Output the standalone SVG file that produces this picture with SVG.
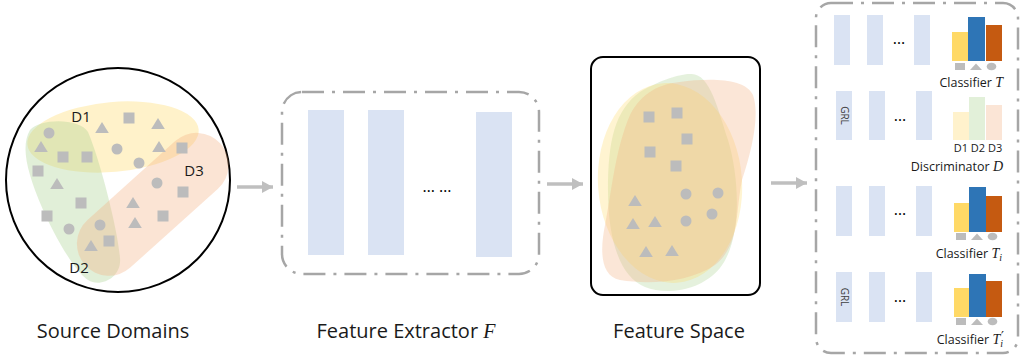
<svg xmlns="http://www.w3.org/2000/svg" xmlns:xlink="http://www.w3.org/1999/xlink" width="1021" height="360" viewBox="0 0 1021 360">
  <style>
    .lbl { font-family: "Open Sans", "Noto Sans", sans-serif; font-size: 20px; fill: #1a1a1a; }
    .sm { font-family: "Open Sans", "Noto Sans", sans-serif; font-size: 12.5px; fill: #1a1a1a; }
    .tiny { font-family: "Open Sans", "Noto Sans", sans-serif; font-size: 11px; fill: #1a1a1a; }
    .grl { font-family: "Open Sans", "Noto Sans", sans-serif; font-size: 10px; fill: #404040; }
    .math { font-family: "Liberation Serif", "DejaVu Serif", serif; font-style: italic; }
    .dom { font-family: "Open Sans", "Noto Sans", sans-serif; font-size: 15px; fill: #1a1a1a; }
    .dots { font-family: "Open Sans", "Noto Sans", sans-serif; font-size: 16px; fill: #000; }
    .layer { fill: #dae3f3; }
    .mark { fill: #bcbcbc; }
    .dashbox { fill: none; stroke: #a6a6a6; stroke-width: 2.5; stroke-dasharray: 22 8 3 8; }
    .arrow { stroke: #bfbfbf; stroke-width: 3.5; fill: none; marker-end: url(#head); }
    .by { fill: #ffd966; }
    .bb { fill: #2e75b6; }
    .bo { fill: #c55a11; }
  </style>
  <defs>
    <marker id="head" markerUnits="userSpaceOnUse" markerWidth="12" markerHeight="12" refX="11" refY="6" orient="auto">
      <path d="M0,0 L11,6 L0,12 Z" fill="#bfbfbf"/>
    </marker>
    <rect id="sq" x="-5.5" y="-5.5" width="11" height="11"/>
    <path id="tri" d="M0,-6 L6.8,5 L-6.8,5 Z"/>
    <circle id="dot" r="5.5"/>
    <!-- small legend icons under the bar charts -->
    <g id="legend" fill="#bcbcbc">
      <rect x="-21" y="-3.5" width="10" height="7"/>
      <path d="M-6,3.5 L0,-3 L6,3.5 Z"/>
      <ellipse cx="15.5" cy="0" rx="4.8" ry="3.8"/>
    </g>
  </defs>

  <rect width="1021" height="360" fill="#ffffff"/>

  <!-- Source domains -->
  <g id="source-domains">
    <circle cx="118" cy="180" r="112" fill="none" stroke="#000" stroke-width="2"/>
    <ellipse cx="113" cy="137" rx="86" ry="35" transform="rotate(-5 113 137)" fill="#ffd966" fill-opacity="0.35"/>
    <path d="M30,130 C40,118 80,118 88,132 C100,160 118,230 120,258 C122,278 100,288 88,280 C70,268 40,210 30,175 C24,155 24,140 30,130 Z" fill="#a9d18e" fill-opacity="0.35"/>
    <rect x="62" y="173" width="182" height="64" rx="32" transform="rotate(-42 152 205)" fill="#f4b183" fill-opacity="0.35"/>
    <g class="mark">
      <use xlink:href="#sq" x="129" y="118"/>
      <use xlink:href="#sq" x="63" y="157"/>
      <use xlink:href="#sq" x="87" y="157"/>
      <use xlink:href="#sq" x="182" y="148"/>
      <use xlink:href="#sq" x="38" y="171"/>
      <use xlink:href="#sq" x="183" y="192"/>
      <use xlink:href="#sq" x="81" y="203"/>
      <use xlink:href="#sq" x="47" y="216"/>
      <use xlink:href="#sq" x="163" y="216"/>
      <use xlink:href="#sq" x="109" y="241"/>
      <use xlink:href="#tri" x="102" y="128"/>
      <use xlink:href="#tri" x="158" y="124"/>
      <use xlink:href="#tri" x="41" y="147"/>
      <use xlink:href="#tri" x="159" y="147"/>
      <use xlink:href="#tri" x="57" y="184"/>
      <use xlink:href="#tri" x="133" y="203"/>
      <use xlink:href="#tri" x="135" y="223"/>
      <use xlink:href="#tri" x="91" y="246"/>
      <use xlink:href="#dot" x="49" y="133"/>
      <use xlink:href="#dot" x="117" y="149"/>
      <use xlink:href="#dot" x="139" y="163"/>
      <use xlink:href="#dot" x="157" y="183"/>
      <use xlink:href="#dot" x="69" y="229"/>
      <use xlink:href="#dot" x="100" y="225"/>
    </g>
    <text class="dom" x="81" y="122" text-anchor="middle">D1</text>
    <text class="dom" x="79" y="273" text-anchor="middle">D2</text>
    <text class="dom" x="194" y="176" text-anchor="middle">D3</text>
    <text class="lbl" x="113" y="338" text-anchor="middle">Source Domains</text>
  </g>

  <!-- Feature extractor -->
  <g id="feature-extractor">
    <rect class="dashbox" x="282" y="92" width="257" height="182" rx="20"/>
    <rect class="layer" x="308" y="110" width="36" height="145"/>
    <rect class="layer" x="368" y="110" width="36" height="145"/>
    <rect class="layer" x="476" y="112" width="36" height="145"/>
    <text class="dots" x="437" y="192" text-anchor="middle">… …</text>
    <text class="lbl" x="406" y="338" text-anchor="middle">Feature Extractor <tspan class="math">F</tspan></text>
  </g>

  <!-- Feature space -->
  <g id="feature-space">
    <rect x="591" y="57" width="169" height="238" rx="12" fill="none" stroke="#000" stroke-width="2"/>
    <path d="M690,74 C710,72 718,110 728,140 C740,180 742,240 720,268 C700,292 665,295 645,287 C620,277 608,240 608,190 C608,140 615,110 640,92 C660,80 680,74 690,74 Z" fill="#a9d18e" fill-opacity="0.3"/>
    <ellipse cx="670" cy="183" rx="72" ry="100" transform="rotate(-4 670 183)" fill="#ffd966" fill-opacity="0.3"/>
    <path d="M680,82 C710,78 745,78 753,95 C760,115 752,150 742,180 C735,215 740,245 715,265 C690,282 650,285 620,280 C600,276 600,250 605,225 C612,190 615,150 630,115 C642,92 660,84 680,82 Z" fill="#f4b183" fill-opacity="0.32"/>
    <g class="mark">
      <use xlink:href="#sq" x="649" y="117"/>
      <use xlink:href="#sq" x="677" y="113"/>
      <use xlink:href="#sq" x="687" y="139"/>
      <use xlink:href="#sq" x="650" y="152"/>
      <use xlink:href="#sq" x="676" y="166"/>
      <use xlink:href="#tri" x="635" y="201"/>
      <use xlink:href="#tri" x="633" y="224"/>
      <use xlink:href="#tri" x="655" y="222"/>
      <use xlink:href="#tri" x="646" y="252"/>
      <use xlink:href="#tri" x="672" y="251"/>
      <use xlink:href="#dot" x="686" y="194"/>
      <use xlink:href="#dot" x="718" y="193"/>
      <use xlink:href="#dot" x="712" y="214"/>
      <use xlink:href="#dot" x="686" y="221"/>
    </g>
    <text class="lbl" x="679" y="338" text-anchor="middle">Feature Space</text>
  </g>

  <!-- Classifier heads -->
  <g id="heads">
    <rect class="dashbox" x="816" y="3" width="202" height="350" rx="15"/>

    <g id="classifier-t">
      <rect class="layer" x="834" y="15" width="16" height="50"/>
      <rect class="layer" x="867" y="15" width="16" height="50"/>
      <rect class="layer" x="914" y="15" width="16" height="50"/>
      <text class="dots" x="899" y="44" text-anchor="middle">…</text>
      <rect class="by" x="952" y="32" width="16" height="29"/>
      <rect class="bb" x="968" y="17" width="17" height="44"/>
      <rect class="bo" x="986" y="25" width="16" height="36"/>
      <use xlink:href="#legend" x="976" y="66.5"/>
      <text class="sm" x="1003" y="87" text-anchor="end">Classifier <tspan class="math" font-size="14">T</tspan></text>
    </g>

    <g id="discriminator-d">
      <rect class="layer" x="836" y="91" width="16" height="49"/>
      <text class="grl" transform="translate(840.5 115.5) rotate(90)" text-anchor="middle">GRL</text>
      <rect class="layer" x="869" y="91" width="16" height="49"/>
      <rect class="layer" x="916" y="91" width="16" height="49"/>
      <text class="dots" x="900" y="121" text-anchor="middle">…</text>
      <rect x="953" y="112" width="16" height="28" fill="#fff2cc"/>
      <rect x="969" y="97" width="16" height="43" fill="#e2f0d9"/>
      <rect x="986" y="105" width="16" height="35" fill="#fbe5d6"/>
      <text class="tiny" x="978" y="152" text-anchor="middle">D1 D2 D3</text>
      <text class="sm" x="1003" y="171" text-anchor="end">Discriminator <tspan class="math" font-size="14">D</tspan></text>
    </g>

    <g id="classifier-ti">
      <rect class="layer" x="836" y="186" width="16" height="50"/>
      <rect class="layer" x="869" y="186" width="16" height="50"/>
      <rect class="layer" x="916" y="186" width="16" height="50"/>
      <text class="dots" x="900" y="215" text-anchor="middle">…</text>
      <rect class="by" x="954" y="203" width="15" height="29"/>
      <rect class="bb" x="969" y="187" width="17" height="45"/>
      <rect class="bo" x="986" y="196" width="16" height="36"/>
      <use xlink:href="#legend" x="977" y="236.5"/>
      <text class="sm" x="1002" y="258" text-anchor="end">Classifier <tspan class="math" font-size="14">T</tspan><tspan class="math" font-size="10" dy="3">i</tspan></text>
    </g>

    <g id="classifier-ti-prime">
      <rect class="layer" x="836" y="272" width="16" height="50"/>
      <text class="grl" transform="translate(840.5 297) rotate(90)" text-anchor="middle">GRL</text>
      <rect class="layer" x="869" y="272" width="16" height="50"/>
      <rect class="layer" x="916" y="272" width="16" height="50"/>
      <text class="dots" x="900" y="302" text-anchor="middle">…</text>
      <rect class="by" x="954" y="288" width="15" height="29"/>
      <rect class="bb" x="969" y="274" width="17" height="43"/>
      <rect class="bo" x="986" y="281" width="16" height="36"/>
      <use xlink:href="#legend" x="977" y="321.5"/>
      <text class="sm" x="1004" y="344" text-anchor="end">Classifier <tspan class="math" font-size="14">T</tspan><tspan class="math" font-size="10" dy="3">i</tspan><tspan font-family="DejaVu Sans, sans-serif" font-size="13" dx="-2" dy="-7">′</tspan></text>
    </g>
  </g>

  <!-- Connectors -->
  <g id="connectors">
    <path class="arrow" d="M237,187 L273,187"/>
    <path class="arrow" d="M547,184 L583,184"/>
    <path class="arrow" d="M771,183 L807,183"/>
  </g>
</svg>
